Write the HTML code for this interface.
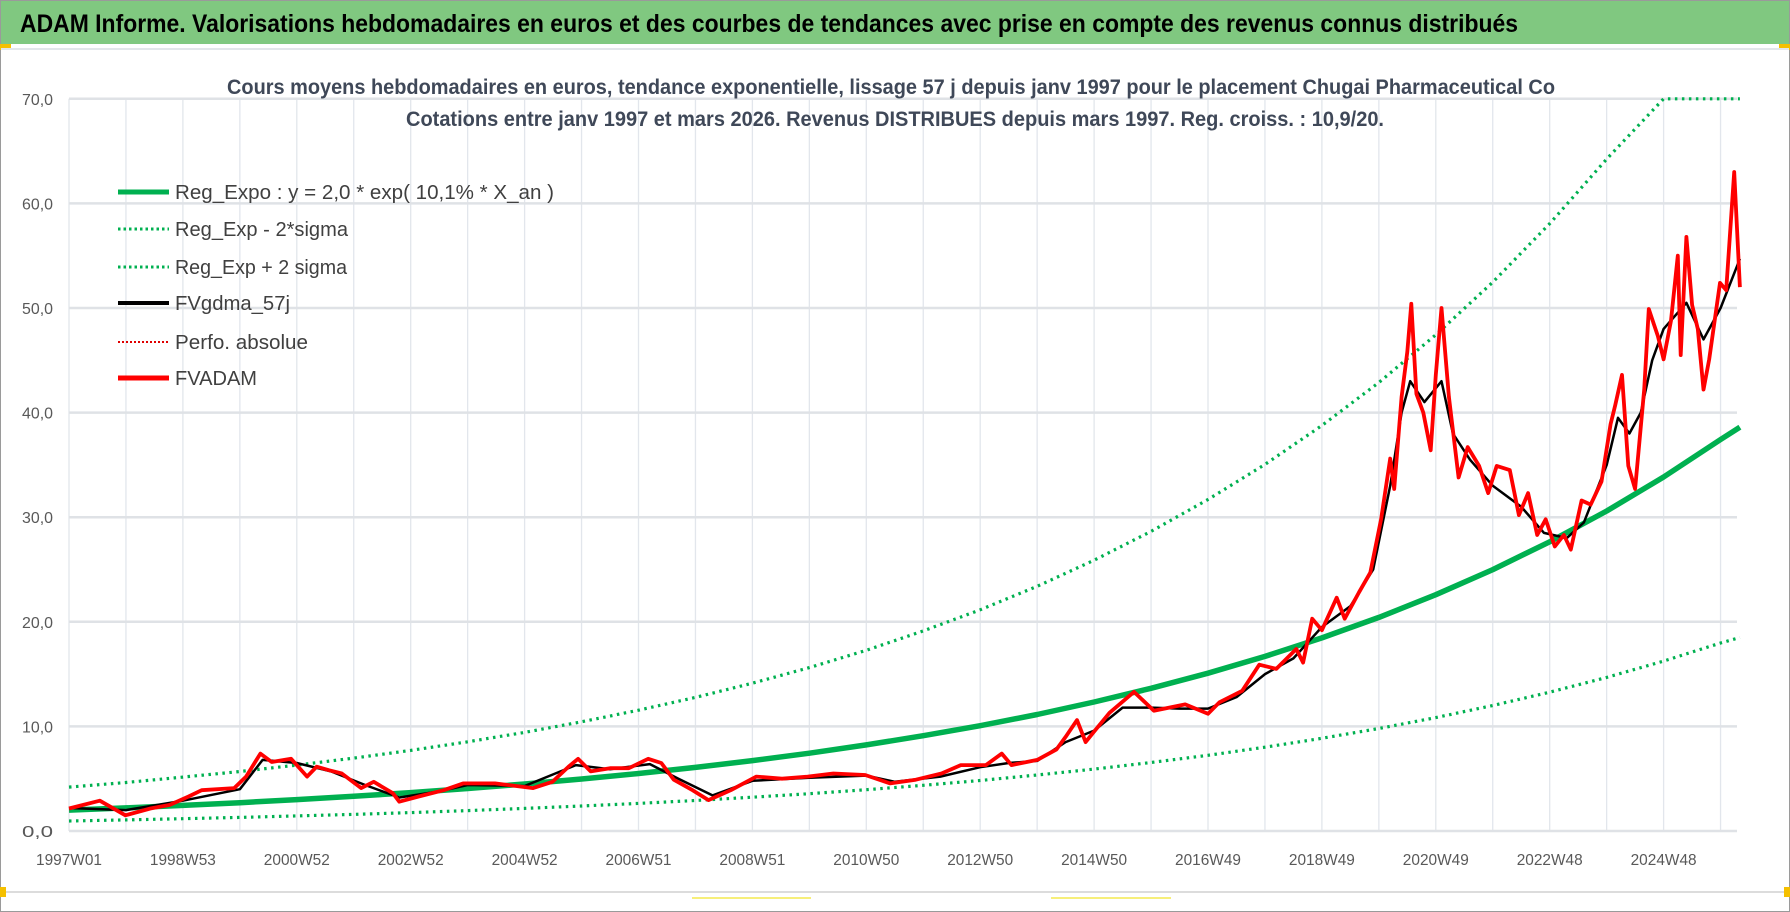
<!DOCTYPE html>
<html><head><meta charset="utf-8"><style>
html,body{margin:0;padding:0;background:#fff;}
svg{display:block;font-family:"Liberation Sans",sans-serif;}
</style></head><body>
<svg id="chart" width="1790" height="912" viewBox="0 0 1790 912">
<rect x="0.5" y="0.5" width="1789" height="911" fill="#fff" stroke="#9a9a9a"/>
<rect x="1" y="1" width="1788" height="43" fill="#80c880"/>
<text x="20" y="32" font-size="25" font-weight="bold" fill="#000" textLength="1498" lengthAdjust="spacingAndGlyphs">ADAM Informe. Valorisations hebdomadaires en euros et des courbes de tendances avec prise en compte des revenus connus distribués</text>
<rect x="0" y="44" width="11" height="6" fill="#f5c000"/>
<rect x="1779" y="44" width="11" height="6" fill="#f5c000"/>
<line x1="1" y1="49" x2="1789" y2="49" stroke="#e3e6ea" stroke-width="2"/>
<line x1="1" y1="892" x2="1789" y2="892" stroke="#dcdcdc" stroke-width="2"/>
<rect x="0" y="887" width="6" height="10" fill="#f5c000"/>
<rect x="1784" y="887" width="6" height="10" fill="#f5c000"/>
<line x1="692" y1="898" x2="811" y2="898" stroke="#f7ef7a" stroke-width="2"/>
<line x1="1051" y1="898" x2="1171" y2="898" stroke="#f7ef7a" stroke-width="2"/>
<g id="grid"></g>
<text x="227" y="94" font-size="21" font-weight="bold" fill="#3f4858" textLength="1328" lengthAdjust="spacingAndGlyphs">Cours moyens hebdomadaires en euros, tendance exponentielle, lissage 57 j depuis janv 1997  pour le placement Chugai Pharmaceutical Co</text>
<text x="406" y="126" font-size="21" font-weight="bold" fill="#3f4858" textLength="978" lengthAdjust="spacingAndGlyphs">Cotations entre janv 1997 et mars 2026. Revenus DISTRIBUES depuis mars 1997. Reg. croiss. : 10,9/20.</text>
<g id="series"></g>
<g id="legend">
<line x1="118" y1="192" x2="169" y2="192" stroke="#00b050" stroke-width="5"/>
<text x="175" y="199" font-size="20" fill="#404040" textLength="379" lengthAdjust="spacingAndGlyphs">Reg_Expo : y = 2,0 * exp( 10,1% *  X_an )</text>
<line x1="118" y1="229" x2="169" y2="229" stroke="#00b050" stroke-width="3" stroke-dasharray="2.5 3"/>
<text x="175" y="236" font-size="20" fill="#404040" textLength="173" lengthAdjust="spacingAndGlyphs">Reg_Exp - 2*sigma</text>
<line x1="118" y1="267" x2="169" y2="267" stroke="#00b050" stroke-width="3" stroke-dasharray="2.5 3"/>
<text x="175" y="274" font-size="20" fill="#404040" textLength="172" lengthAdjust="spacingAndGlyphs">Reg_Exp + 2 sigma</text>
<line x1="118" y1="303" x2="169" y2="303" stroke="#000" stroke-width="4"/>
<text x="175" y="310" font-size="20" fill="#404040" textLength="115" lengthAdjust="spacingAndGlyphs">FVgdma_57j</text>
<line x1="118" y1="342" x2="169" y2="342" stroke="#e00000" stroke-width="2" stroke-dasharray="2 2"/>
<text x="175" y="349" font-size="20" fill="#404040" textLength="133" lengthAdjust="spacingAndGlyphs">Perfo. absolue</text>
<line x1="118" y1="378" x2="169" y2="378" stroke="#ff0000" stroke-width="5"/>
<text x="175" y="385" font-size="20" fill="#404040" textLength="82" lengthAdjust="spacingAndGlyphs">FVADAM</text>
</g>
</svg>
<script>
// ---- data ----
const yTicks = [0,10,20,30,40,50,60,70];
const yTickLabels = ["0,0","10,0","20,0","30,0","40,0","50,0","60,0","70,0"];
const xTickYears = [0,2,4,6,8,10,12,14,16,18,20,22,24,26,28];
const xTickLabels = ["1997W01","1998W53","2000W52","2002W52","2004W52","2006W51","2008W51","2010W50","2012W50","2014W50","2016W49","2018W49","2020W49","2022W48","2024W48"];
const trendT = [0,1,2,3,4,5,6,7,8,9,10,11,12,13,14,15,16,17,18,19,20,21,22,23,24,25,26,27,28,29,29.34];
const regValues = [2.0,2.21,2.45,2.71,3.0,3.32,3.67,4.06,4.49,4.97,5.5,6.08,6.73,7.44,8.23,9.11,10.07,11.14,12.33,13.64,15.09,16.69,18.46,20.42,22.59,24.99,27.65,30.59,33.84,37.43,38.6];
const lowerValues = [0.96,1.06,1.18,1.3,1.44,1.59,1.76,1.95,2.16,2.39,2.64,2.92,3.23,3.57,3.95,4.37,4.83,5.35,5.92,6.55,7.24,8.01,8.86,9.8,10.84,12.0,13.27,14.68,16.24,17.97,18.5];
const upperValues = [4.2,4.64,5.15,5.69,6.3,6.97,7.71,8.53,9.43,10.44,11.55,12.77,14.13,15.62,17.28,19.13,21.15,23.39,25.89,28.64,31.69,35.05,38.77,42.88,47.44,52.48,58.07,64.24,70,70,70];
const priceT = [0,0.54,0.99,1.43,1.77,2.1,2.33,2.9,3.11,3.36,3.56,3.9,4.18,4.35,4.57,4.79,5.13,5.35,5.69,5.8,6.14,6.58,6.92,7.48,8.15,8.49,8.77,8.94,9.16,9.5,9.83,10.17,10.4,10.62,10.95,11.23,11.62,12.07,12.52,12.97,13.42,13.98,14.42,14.87,15.32,15.66,16.1,16.38,16.55,17.0,17.34,17.5,17.7,17.85,18.0,18.27,18.7,19.05,19.6,20.0,20.2,20.6,20.9,21.2,21.55,21.67,21.83,22.0,22.26,22.4,22.65,22.85,23.04,23.2,23.27,23.4,23.5,23.57,23.66,23.78,23.91,24.0,24.1,24.23,24.4,24.56,24.76,24.92,25.07,25.3,25.46,25.62,25.78,25.93,26.09,26.25,26.37,26.56,26.72,26.91,27.07,27.15,27.27,27.38,27.5,27.66,27.74,27.9,28.0,28.13,28.25,28.3,28.4,28.5,28.6,28.7,28.8,28.99,29.1,29.24,29.34];
const priceValues = [2.15,2.9,1.5,2.15,2.5,3.3,3.9,4.1,5.2,7.4,6.6,6.9,5.2,6.15,5.8,5.5,4.1,4.7,3.6,2.8,3.3,3.9,4.55,4.55,4.1,4.7,6.15,6.9,5.7,6.0,6.0,6.9,6.5,4.9,3.9,2.95,3.9,5.2,5.0,5.2,5.5,5.35,4.55,4.9,5.5,6.3,6.3,7.4,6.3,6.8,7.8,9.0,10.6,8.5,9.5,11.3,13.3,11.5,12.1,11.2,12.3,13.4,15.9,15.5,17.4,16.1,20.3,19.2,22.3,20.3,22.8,24.7,29.8,35.6,32.7,41.5,45.8,50.4,41.8,40.0,36.4,43.6,50.0,41.5,33.8,36.7,34.9,32.3,34.9,34.5,30.2,32.3,28.3,29.8,27.2,28.3,26.9,31.6,31.2,33.4,38.9,40.7,43.6,34.9,32.7,42.2,49.9,47.3,45.1,48.8,55.0,45.5,56.8,50.3,48.0,42.2,45.1,52.4,51.7,63.0,52.0];
const smoothT = [0,1,2,3,3.4,4,4.6,5.2,5.8,6.5,7,8,8.9,9.5,10.2,10.7,11.3,12,13,14,14.5,15.3,16,16.5,17,17.5,18,18.5,19,19.5,20,20.5,21,21.5,22,22.5,22.9,23.2,23.4,23.55,23.8,24.1,24.3,24.6,25,25.5,25.9,26.3,26.6,27,27.2,27.4,27.6,27.8,28.0,28.4,28.7,29.0,29.34];
const smoothValues = [2.2,2.0,2.9,4.0,6.8,6.5,5.7,4.4,3.2,3.8,4.4,4.3,6.3,5.9,6.4,5.0,3.4,4.8,5.1,5.3,4.7,5.2,6.1,6.5,6.7,8.5,9.6,11.8,11.8,11.7,11.7,12.8,15.0,16.5,19.5,21.5,25,33,40,43,41,43,38,35.5,33,31,28.5,28.0,29.5,35,39.5,38,40,45,48,50.5,47,50,54.7];

// ---- axes ----
const X0 = 69, PX_PER_YEAR = 56.95, Y0 = 831, PX_PER_UNIT = 10.46, XRIGHT = 1737;
function xs(t){ return X0 + t*PX_PER_YEAR; }
function ys(v){ return Y0 - v*PX_PER_UNIT; }
const NS = "http://www.w3.org/2000/svg";
function mk(tag, attrs, parent){ const e=document.createElementNS(NS,tag); for(const k in attrs) e.setAttribute(k,attrs[k]); parent.appendChild(e); return e; }

const grid = document.getElementById('grid');
for(let yr=0; yr<=29; yr++){
  const l = mk('line',{x1:xs(yr),x2:xs(yr),y1:ys(70),y2:Y0,stroke:'#e2e6ec','stroke-width':1.3},grid);
  
  
}
yTicks.forEach((v,i)=>{
  const l = mk('line',{x1:X0,x2:XRIGHT,y1:ys(v),y2:ys(v),stroke:'#dfe2e6','stroke-width':2.5},grid);
  
  
  const t = mk('text',{x:53,y:ys(v)+6,'font-size':16,fill:'#595959','text-anchor':'end',textLength:31,lengthAdjust:'spacingAndGlyphs'},grid);
  t.textContent = yTickLabels[i];
  
  
});
xTickYears.forEach((yr,i)=>{
  const t = mk('text',{x:xs(yr),y:865,'font-size':16,fill:'#595959','text-anchor':'middle',textLength:66,lengthAdjust:'spacingAndGlyphs'},grid);
  t.textContent = xTickLabels[i];
  
  
});

// ---- series ----
const series = document.getElementById('series');
function pts(ts,vs){ return ts.map((t,i)=>xs(t).toFixed(1)+','+ys(vs[i]).toFixed(1)).join(' '); }
const up = mk('polyline',{points:pts(trendT,upperValues),fill:'none',stroke:'#00b050','stroke-width':3.2,'stroke-dasharray':'2.5 4.5'},series);


const lo = mk('polyline',{points:pts(trendT,lowerValues),fill:'none',stroke:'#00b050','stroke-width':3.2,'stroke-dasharray':'2.5 4.5'},series);


const reg = mk('polyline',{points:pts(trendT,regValues),fill:'none',stroke:'#00b050','stroke-width':5.5,'stroke-linejoin':'round'},series);


const sm = mk('polyline',{points:pts(smoothT,smoothValues),fill:'none',stroke:'#000','stroke-width':2.5,'stroke-linejoin':'round'},series);


const pr = mk('polyline',{points:pts(priceT,priceValues),fill:'none',stroke:'#ff0000','stroke-width':3.8,'stroke-linejoin':'round'},series);


</script>
</body></html>
